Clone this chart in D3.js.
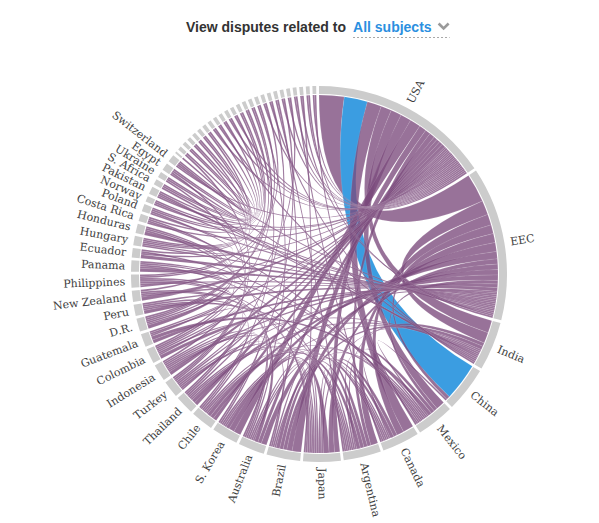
<!DOCTYPE html>
<html>
<head>
<meta charset="utf-8">
<script src="https://cdn.jsdelivr.net/npm/d3@7"></script>
<style>
  body { margin: 0; background: #fff; }
  svg { display: block; }
  .title { font-family: "Liberation Sans", Arial, sans-serif; font-size: 14px; font-weight: bold; }
  .label { font-family: "DejaVu Serif", Georgia, serif; font-size: 11px; fill: #3e3e3e; }
</style>
</head>
<body>
<svg id="chart" width="599" height="523"></svg>
<script>
// groups, clockwise from 12 o'clock
const countries = [
  'USA', 'EEC', 'India', 'China', 'Mexico', 'Canada', 'Argentina', 'Japan', 'Brazil',
  'Australia', 'S. Korea', 'Chile', 'Thailand', 'Turkey', 'Indonesia', 'Colombia',
  'Guatemala', 'D.R.', 'Peru', 'New Zealand', 'Philippines', 'Panama', 'Ecuador',
  'Hungary', 'Honduras', 'Costa Rica', 'Poland', 'Norway', 'Pakistan', 'S. Africa',
  'Ukraine', 'Egypt', 'Switzerland',
  'Moldova', 'Armenia', 'Croatia', 'Romania', 'Czech Rep.', 'Slovakia', 'Hong Kong',
  'Greece', 'Bangladesh', 'Sweden', 'Ireland', 'Antigua', 'El Salvador', 'Trinidad',
  'Nicaragua', 'Singapore', 'Denmark', 'Sri Lanka', 'Uruguay', 'Malaysia', 'Vietnam',
  'Belgium', 'Chinese Taipei', 'Russia', 'Venezuela',
];

// [a, b, width at a, width at b]
const links = [
  ['USA', 'EEC', 14, 16], ['USA', 'China', 13, 21], ['USA', 'Canada', 8, 6],
  ['USA', 'Mexico', 6, 5], ['USA', 'India', 6, 7], ['USA', 'Japan', 6, 3],
  ['USA', 'S. Korea', 6, 4], ['USA', 'Brazil', 4, 5], ['USA', 'Argentina', 3, 2],
  ['USA', 'Australia', 3, 2], ['USA', 'Chile', 2, 2], ['USA', 'Thailand', 2, 2],
  ['USA', 'Indonesia', 2, 2], ['USA', 'Turkey', 2, 1], ['USA', 'New Zealand', 1, 2],
  ['USA', 'Guatemala', 1, 1], ['USA', 'Colombia', 1, 1], ['USA', 'Ecuador', 1, 1],
  ['USA', 'Philippines', 1, 1], ['USA', 'Costa Rica', 1, 1], ['USA', 'Pakistan', 1, 1],
  ['USA', 'Norway', 1, 1], ['USA', 'Switzerland', 1, 1], ['USA', 'Venezuela', 1, 1],
  ['USA', 'Belgium', 1, 1], ['USA', 'Ireland', 1, 1], ['USA', 'Greece', 1, 1],
  ['USA', 'Denmark', 1, 1], ['USA', 'Antigua', 1, 1], ['USA', 'Vietnam', 1, 1],
  ['USA', 'Russia', 1, 1], ['USA', 'Malaysia', 1, 1], ['USA', 'Sweden', 1, 1],

  ['EEC', 'India', 8, 6], ['EEC', 'China', 5, 2], ['EEC', 'Canada', 6, 4],
  ['EEC', 'Brazil', 5, 3], ['EEC', 'Argentina', 5, 4], ['EEC', 'Japan', 3, 3],
  ['EEC', 'S. Korea', 4, 2], ['EEC', 'Chile', 3, 2], ['EEC', 'Thailand', 3, 2],
  ['EEC', 'Australia', 3, 3], ['EEC', 'Mexico', 2, 2], ['EEC', 'Indonesia', 2, 1],
  ['EEC', 'Colombia', 2, 2], ['EEC', 'Guatemala', 1, 2], ['EEC', 'Ecuador', 1, 2],
  ['EEC', 'Honduras', 1, 2], ['EEC', 'Panama', 1, 2], ['EEC', 'Peru', 1, 2],
  ['EEC', 'Philippines', 1, 1], ['EEC', 'Hungary', 1, 1], ['EEC', 'Norway', 1, 1],
  ['EEC', 'Pakistan', 1, 1], ['EEC', 'Poland', 1, 1], ['EEC', 'Switzerland', 1, 1],
  ['EEC', 'Turkey', 1, 1], ['EEC', 'New Zealand', 1, 1], ['EEC', 'Russia', 1, 1],
  ['EEC', 'Chinese Taipei', 1, 1],

  ['India', 'Argentina', 2, 1], ['India', 'Brazil', 2, 2], ['India', 'S. Africa', 1, 1],
  ['India', 'Indonesia', 1, 1], ['India', 'Japan', 1, 1], ['India', 'S. Korea', 1, 1],
  ['India', 'Pakistan', 1, 1], ['India', 'Thailand', 1, 1], ['India', 'Egypt', 1, 1],
  ['India', 'Bangladesh', 1, 1], ['India', 'Sri Lanka', 1, 1],

  ['China', 'Mexico', 1, 1],

  ['Mexico', 'Guatemala', 2, 2], ['Mexico', 'Argentina', 1, 1], ['Mexico', 'Ecuador', 1, 1],
  ['Mexico', 'Panama', 1, 1], ['Mexico', 'Brazil', 1, 1], ['Mexico', 'Canada', 2, 1],
  ['Mexico', 'Costa Rica', 1, 1], ['Mexico', 'Chile', 1, 1], ['Mexico', 'S. Korea', 1, 1],
  ['Mexico', 'Venezuela', 1, 1],

  ['Canada', 'Brazil', 2, 2], ['Canada', 'Japan', 2, 1], ['Canada', 'S. Korea', 1, 1],
  ['Canada', 'Australia', 1, 1], ['Canada', 'Chile', 1, 1], ['Canada', 'Peru', 1, 1],
  ['Canada', 'Belgium', 1, 1],

  ['Argentina', 'Brazil', 2, 2], ['Argentina', 'Chile', 2, 2], ['Argentina', 'Japan', 2, 1],
  ['Argentina', 'Panama', 1, 1], ['Argentina', 'Australia', 1, 1], ['Argentina', 'Thailand', 1, 1],
  ['Argentina', 'Peru', 1, 1], ['Argentina', 'Turkey', 1, 1], ['Argentina', 'Uruguay', 1, 1],

  ['Japan', 'S. Korea', 3, 3], ['Japan', 'Brazil', 1, 1], ['Japan', 'Indonesia', 1, 1],
  ['Japan', 'Australia', 1, 1], ['Japan', 'Thailand', 1, 1], ['Japan', 'Chile', 1, 1],
  ['Japan', 'New Zealand', 1, 1], ['Japan', 'Philippines', 1, 1], ['Japan', 'Chinese Taipei', 1, 1],

  ['Brazil', 'Turkey', 1, 1], ['Brazil', 'Uruguay', 1, 1],

  ['Australia', 'New Zealand', 2, 1], ['Australia', 'Philippines', 1, 1],
  ['Australia', 'Indonesia', 1, 1], ['Australia', 'Honduras', 1, 1], ['Australia', 'Singapore', 1, 1],

  ['S. Korea', 'Indonesia', 1, 1], ['S. Korea', 'Malaysia', 1, 1],
  ['Chile', 'Peru', 1, 1], ['Chile', 'Colombia', 1, 1], ['Chile', 'Trinidad', 1, 1],
  ['Thailand', 'Philippines', 1, 1], ['Thailand', 'Turkey', 1, 1], ['Thailand', 'Sri Lanka', 1, 1],
  ['Turkey', 'Indonesia', 1, 1], ['Turkey', 'Egypt', 1, 1], ['Turkey', 'Ukraine', 1, 1],
  ['Turkey', 'Armenia', 1, 1],
  ['Indonesia', 'Vietnam', 1, 1],
  ['Colombia', 'Panama', 1, 1], ['Colombia', 'Guatemala', 1, 1], ['Colombia', 'Honduras', 1, 1],
  ['Colombia', 'Nicaragua', 1, 1],
  ['Guatemala', 'Peru', 1, 1],
  ['D.R.', 'Honduras', 2, 1], ['D.R.', 'Costa Rica', 1, 1], ['D.R.', 'Panama', 1, 1],
  ['D.R.', 'El Salvador', 1, 1], ['D.R.', 'Trinidad', 1, 1], ['D.R.', 'Nicaragua', 1, 1],
  ['New Zealand', 'Singapore', 1, 1],
  ['Philippines', 'Hong Kong', 1, 1], ['Philippines', 'Denmark', 1, 1],
  ['Ecuador', 'El Salvador', 1, 1],
  ['Hungary', 'Poland', 1, 1], ['Hungary', 'Slovakia', 1, 1], ['Hungary', 'Czech Rep.', 1, 1],
  ['Hungary', 'Romania', 1, 1],
  ['Costa Rica', 'Antigua', 1, 1],
  ['Poland', 'Ireland', 1, 1], ['Poland', 'Slovakia', 1, 1],
  ['Norway', 'Sweden', 1, 1],
  ['Pakistan', 'Bangladesh', 1, 1],
  ['S. Africa', 'Hong Kong', 1, 1], ['S. Africa', 'Greece', 1, 1],
  ['Ukraine', 'Moldova', 1, 1], ['Ukraine', 'Armenia', 1, 1],
  ['Egypt', 'Croatia', 1, 1], ['Egypt', 'Romania', 1, 1],
  ['Switzerland', 'Czech Rep.', 1, 1], ['Switzerland', 'Croatia', 1, 1],
];

const highlightPair = ['USA', 'China'];
const titleText = 'View disputes related to';
const subject = 'All subjects';

const cx = 319;
const cy = 274;
const outerR = 188;
const innerR = 180;
const ribbonR = 179;
const minLabelValue = 3;

const idx = new Map(countries.map((c, i) => [c, i]));
const matrix = countries.map(() => countries.map(() => 0));
links.forEach(([a, b, ab, ba]) => {
  matrix[idx.get(a)][idx.get(b)] += ab;
  matrix[idx.get(b)][idx.get(a)] += ba;
});

const chords = d3.chord()
  .padAngle(0.015)
  .sortSubgroups(d3.descending)(matrix);

const svg = d3.select('#chart');

// title
const title = svg.append('g').attr('class', 'title');
const t1 = title.append('text')
  .attr('x', 186)
  .attr('y', 32)
  .attr('fill', '#333')
  .text(titleText);
const x2 = 186 + t1.node().getComputedTextLength() + 7;
const t2 = title.append('text')
  .attr('x', x2)
  .attr('y', 32)
  .attr('fill', '#2b8fe0')
  .text(subject);
const chevX = x2 + t2.node().getComputedTextLength() + 12;
title.append('path')
  .attr('d', `M${chevX - 5},23.5L${chevX},28.5L${chevX + 5},23.5`)
  .attr('fill', 'none')
  .attr('stroke', '#9a9a9a')
  .attr('stroke-width', 2.6);
title.append('line')
  .attr('x1', x2)
  .attr('x2', chevX + 6)
  .attr('y1', 37.5)
  .attr('y2', 37.5)
  .attr('stroke', '#a8a8a8')
  .attr('stroke-dasharray', '2,2');

const g = svg.append('g')
  .attr('transform', `translate(${cx},${cy})`);

const isHighlight = d =>
  (countries[d.source.index] === highlightPair[0] && countries[d.target.index] === highlightPair[1]) ||
  (countries[d.source.index] === highlightPair[1] && countries[d.target.index] === highlightPair[0]);

g.append('g')
  .selectAll('path')
  .data(chords)
  .join('path')
  .attr('d', d3.ribbon().radius(ribbonR))
  .attr('fill', d => (isHighlight(d) ? '#3b9de1' : '#7b4a7c'))
  .attr('fill-opacity', d => (isHighlight(d) ? 1 : 0.78))
  .attr('stroke', '#fff')
  .attr('stroke-opacity', 0.25)
  .attr('stroke-width', 0.4);

const group = g.append('g')
  .selectAll('g')
  .data(chords.groups)
  .join('g');

group.append('path')
  .attr('d', d3.arc().innerRadius(innerR).outerRadius(outerR))
  .attr('fill', '#cccccc');

group.filter(d => d.value >= minLabelValue)
  .append('text')
  .attr('class', 'label')
  .each((d) => { d.angle = (d.startAngle + d.endAngle) / 2; })
  .attr('dy', '0.35em')
  .attr('transform', d => `rotate(${(d.angle * 180) / Math.PI - 90}) translate(${outerR + 6})${d.angle > Math.PI ? ' rotate(180)' : ''}`)
  .attr('text-anchor', d => (d.angle > Math.PI ? 'end' : 'start'))
  .text(d => countries[d.index]);
</script>
</body>
</html>
